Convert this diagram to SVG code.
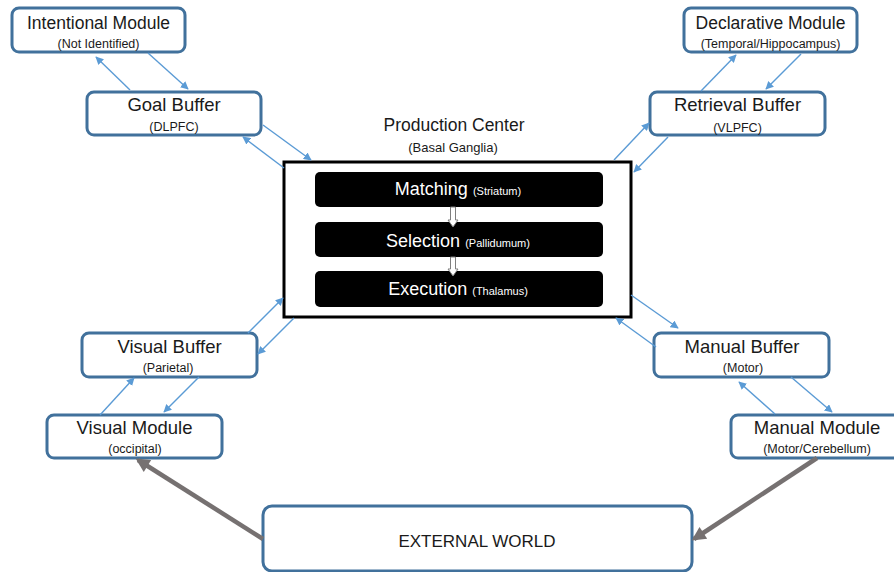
<svg xmlns="http://www.w3.org/2000/svg" width="894" height="572" viewBox="0 0 894 572">
  <defs>
    <marker id="blueHead" viewBox="0 0 10 10" refX="9" refY="5" markerWidth="8" markerHeight="8" markerUnits="userSpaceOnUse" orient="auto">
      <path d="M0,0 L10,5 L0,10 Z" fill="#5B9BD5"/>
    </marker>
    <marker id="grayHead" viewBox="0 0 10 10" refX="8" refY="5" markerWidth="16" markerHeight="14" markerUnits="userSpaceOnUse" orient="auto">
      <path d="M0,0 L10,5 L0,10 Z" fill="#767171"/>
    </marker>
  </defs>
  <style>
    .box { fill: #ffffff; stroke: #41719C; stroke-width: 3; }
    .title { font-family: "Liberation Sans", Arial, sans-serif; font-size: 17.5px; fill: #1a1a1a; text-anchor: middle; }
    .sub { font-family: "Liberation Sans", Arial, sans-serif; font-size: 12.5px; fill: #1a1a1a; text-anchor: middle; }
    .bar { fill: #000000; }
    .barText { font-family: "Liberation Sans", Arial, sans-serif; font-size: 18px; fill: #ffffff; text-anchor: middle; }
    .barSub { font-size: 11px; }
    .link { stroke: #5B9BD5; stroke-width: 1.4; fill: none; marker-end: url(#blueHead); }
    .world { stroke: #767171; stroke-width: 4.5; fill: none; marker-end: url(#grayHead); }
  </style>

  <rect width="894" height="572" fill="#ffffff"/>

  <g id="intentional-module">
    <rect class="box" x="12" y="8" width="173" height="44" rx="7"/>
    <text class="title" x="98.5" y="29">Intentional Module</text>
    <text class="sub" x="98.5" y="48">(Not Identified)</text>
  </g>

  <g id="goal-buffer">
    <rect class="box" x="87" y="92" width="174" height="43" rx="7"/>
    <text class="title" x="174" y="111" style="font-size:18.5px">Goal Buffer</text>
    <text class="sub" x="174" y="131">(DLPFC)</text>
  </g>

  <g id="declarative-module">
    <rect class="box" x="684" y="8" width="173" height="44" rx="7"/>
    <text class="title" x="770.5" y="29">Declarative Module</text>
    <text class="sub" x="770.5" y="48">(Temporal/Hippocampus)</text>
  </g>

  <g id="retrieval-buffer">
    <rect class="box" x="650" y="92" width="175" height="43" rx="7"/>
    <text class="title" x="737.5" y="111" style="font-size:18.5px">Retrieval Buffer</text>
    <text class="sub" x="737.5" y="132">(VLPFC)</text>
  </g>

  <g id="production-center">
    <text class="title" x="454" y="131">Production Center</text>
    <text class="sub" x="453" y="152" style="font-size:13px">(Basal Ganglia)</text>
    <rect x="284" y="162" width="347" height="155" fill="#ffffff" stroke="#000000" stroke-width="3"/>
    <g id="matching">
      <rect class="bar" x="315" y="172" width="288" height="35" rx="5"/>
      <text class="barText" x="458" y="195">Matching <tspan class="barSub">(Striatum)</tspan></text>
    </g>
    <g id="selection">
      <rect class="bar" x="315" y="222" width="288" height="35" rx="5"/>
      <text class="barText" x="458" y="247">Selection <tspan class="barSub">(Pallidumum)</tspan></text>
    </g>
    <g id="execution">
      <rect class="bar" x="315" y="271" width="288" height="36" rx="5"/>
      <text class="barText" x="458" y="295">Execution <tspan class="barSub">(Thalamus)</tspan></text>
    </g>
    <!-- hollow step arrows between the stages -->
    <path d="M450.5,207 H455.5 V220 H458 L453,227 L448,220 H450.5 Z" fill="#ffffff" stroke="#7f7f7f" stroke-width="1"/>
    <path d="M450.5,257 H455.5 V269 H458 L453,276 L448,269 H450.5 Z" fill="#ffffff" stroke="#7f7f7f" stroke-width="1"/>
  </g>

  <g id="visual-buffer">
    <rect class="box" x="82" y="333" width="175" height="44" rx="7"/>
    <text class="title" x="169.5" y="353" style="font-size:18.5px">Visual Buffer</text>
    <text class="sub" x="168" y="372">(Parietal)</text>
  </g>

  <g id="visual-module">
    <rect class="box" x="47" y="415" width="175" height="43" rx="7"/>
    <text class="title" x="134.5" y="434" style="font-size:18.5px">Visual Module</text>
    <text class="sub" x="135" y="453">(occipital)</text>
  </g>

  <g id="manual-buffer">
    <rect class="box" x="654" y="333" width="175" height="44" rx="7"/>
    <text class="title" x="742" y="353" style="font-size:18.5px">Manual Buffer</text>
    <text class="sub" x="743" y="372">(Motor)</text>
  </g>

  <g id="manual-module">
    <rect class="box" x="731" y="415" width="174" height="43" rx="7"/>
    <text class="title" x="817" y="434" style="font-size:18.5px">Manual Module</text>
    <text class="sub" x="817" y="453">(Motor/Cerebellum)</text>
  </g>

  <g id="external-world">
    <rect class="box" x="263" y="506" width="429" height="65" rx="9"/>
    <text class="title" x="477" y="547" style="font-size:17px">EXTERNAL WORLD</text>
  </g>

  <g id="connectors">
    <!-- goal side -->
    <line class="link" x1="130" y1="90" x2="96" y2="57"/>
    <line class="link" x1="148" y1="53" x2="188" y2="89"/>
    <line class="link" x1="263" y1="125" x2="311" y2="160"/>
    <line class="link" x1="284" y1="168" x2="243" y2="137"/>
    <!-- retrieval side -->
    <line class="link" x1="701" y1="91" x2="736" y2="55"/>
    <line class="link" x1="801" y1="54" x2="766" y2="89"/>
    <line class="link" x1="614" y1="160" x2="649" y2="123"/>
    <line class="link" x1="668" y1="137" x2="634" y2="172"/>
    <!-- visual side -->
    <line class="link" x1="248" y1="333" x2="283" y2="298"/>
    <line class="link" x1="294" y1="318" x2="258" y2="354"/>
    <line class="link" x1="100" y1="415" x2="134" y2="378"/>
    <line class="link" x1="199" y1="377" x2="164" y2="412"/>
    <!-- manual side -->
    <line class="link" x1="631" y1="295" x2="678" y2="328"/>
    <line class="link" x1="656" y1="347" x2="616" y2="318"/>
    <line class="link" x1="775" y1="414" x2="739" y2="382"/>
    <line class="link" x1="791" y1="377" x2="832" y2="412"/>
    <!-- world loop -->
    <line class="world" x1="263" y1="539" x2="138" y2="460"/>
    <line class="world" x1="817" y1="458" x2="694" y2="539"/>
  </g>
</svg>
